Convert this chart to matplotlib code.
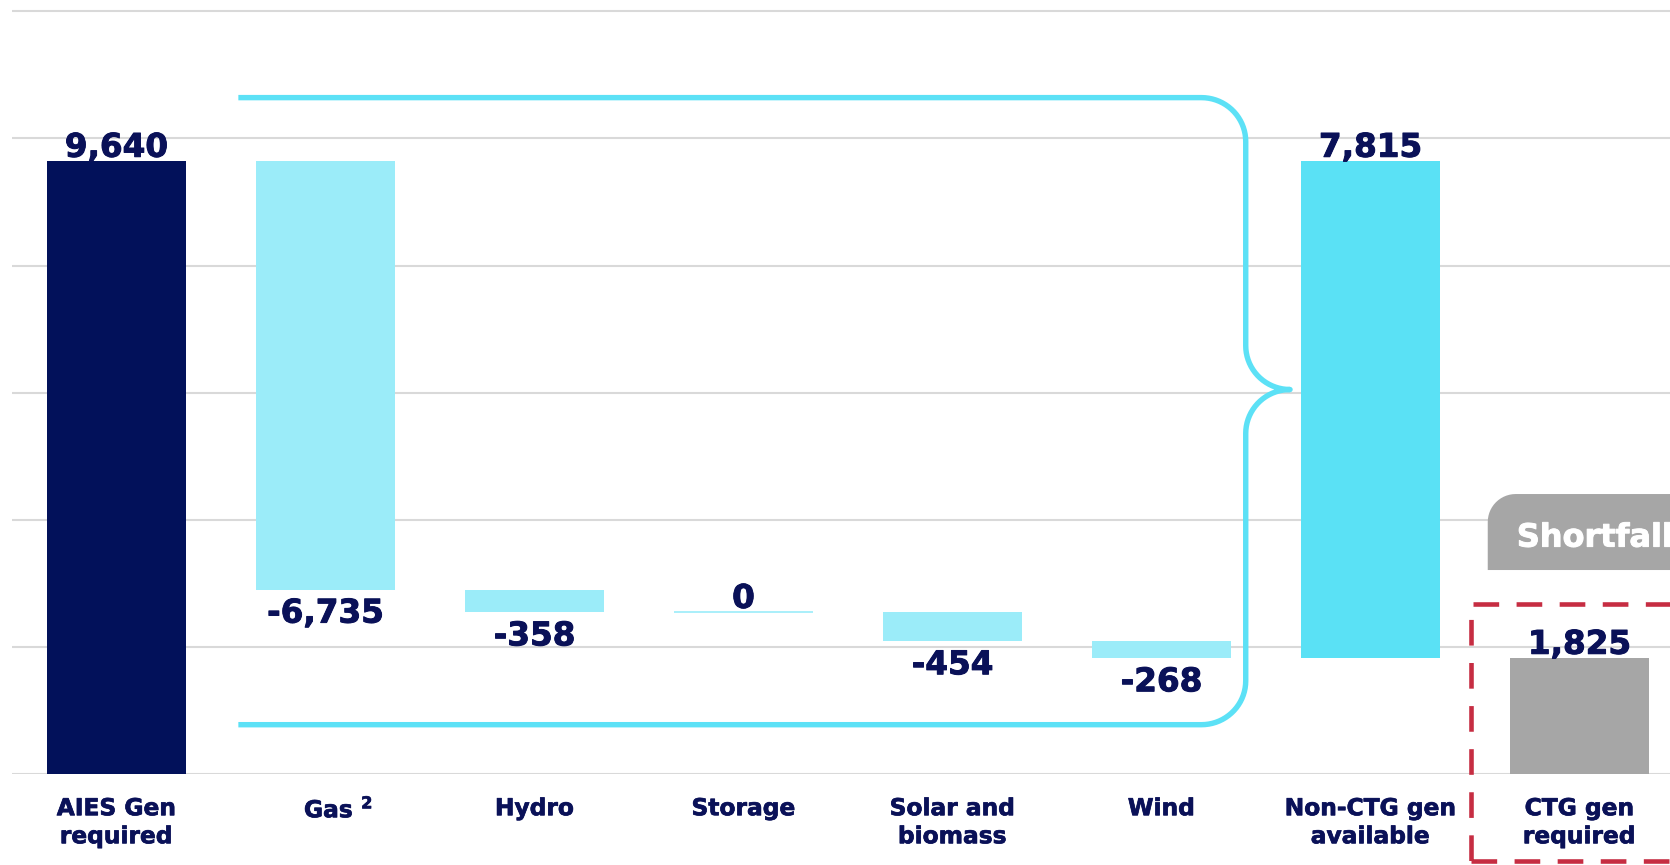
import numpy as np
import matplotlib
matplotlib.use("Agg")
import matplotlib.pyplot as plt
import matplotlib.patheffects as pe
from matplotlib.patches import Rectangle, PathPatch
from matplotlib.path import Path
from matplotlib.transforms import ScaledTranslation

# waterfall: generation required vs. what non-CTG sources can cover
categories = ["AIES Gen\nrequired", r"Gas $^{\mathbf{2}}$", "Hydro", "Storage",
              "Solar and\nbiomass", "Wind", "Non-CTG gen\navailable", "CTG gen\nrequired"]
gen_required = 9640
source_changes = [-6735, -358, 0, -454, -268]
non_ctg_available = 7815
ctg_required = 1825

NAVY = "#02115A"
LIGHT = "#9BECF9"
CYAN = "#5AE1F5"
GREY = "#A6A6A6"
RED = "#C62D42"
TEXT = "#0A1158"

# build bar bottoms / heights
bottoms = [0]
heights = [gen_required]
running = gen_required
for v in source_changes:
    running = running + v
    bottoms.append(running)
    heights.append(-v)
bottoms.append(running)
heights.append(non_ctg_available)
bottoms.append(0)
heights.append(ctg_required)
colors = [NAVY] + [LIGHT] * len(source_changes) + [CYAN, GREY]
labels = [gen_required] + source_changes + [non_ctg_available, ctg_required]

fig = plt.figure(figsize=(16.7, 8.65), dpi=100)
ax = fig.add_axes([12 / 1670, 1 - 774.3 / 865, 1 - 12 / 1670, 774.3 / 865])
x = np.arange(len(categories))

for y in range(0, 12001, 2000):
    ax.axhline(y, color="#D9D9D9", lw=1.5, zorder=0)

ax.bar(x, heights, bottom=bottoms, width=0.665, color=colors, zorder=2,
       edgecolor=[LIGHT if h == 0 else "none" for h in heights], linewidth=1.2)

thick = [pe.withStroke(linewidth=0.7, foreground=TEXT)]
for xi, b, h, v in zip(x, bottoms, heights, labels):
    txt = f"{v:,}"
    if v < 0:
        ax.annotate(txt, (xi, b), xytext=(0, -23.8), textcoords="offset points",
                    ha="center", va="baseline", fontsize=23.5, fontweight="bold",
                    color=TEXT, path_effects=thick)
    else:
        ax.annotate(txt, (xi, b + h), xytext=(0, 3.2), textcoords="offset points",
                    ha="center", va="baseline", fontsize=23.5, fontweight="bold",
                    color=TEXT, path_effects=thick)

# curly bracket around the non-CTG sources
x_left, x_vert, rx = 0.596, 5.403, 0.212
y_top, y_bot, y_tip, ry = 10640, 780, 6050, 690


def arc(cx, cy, a0, a1, n=20):
    t = np.radians(np.linspace(a0, a1, n))
    return list(zip(cx + rx * np.cos(t), cy + ry * np.sin(t)))


pts = [(x_left, y_top), (x_vert - rx, y_top)]
pts += arc(x_vert - rx, y_top - ry, 90, 0)
pts += [(x_vert, y_tip + ry)]
pts += arc(x_vert + rx, y_tip + ry, 180, 270)
pts += arc(x_vert + rx, y_tip - ry, 90, 180)
pts += [(x_vert, y_bot + ry)]
pts += arc(x_vert - rx, y_bot + ry, 0, -90)
pts += [(x_left, y_bot)]
bx, by = zip(*pts)
ax.plot(bx, by, color="#5CE1F6", lw=3.9, solid_joinstyle="round", zorder=3)

# "Shortfall" tab above the CTG bar (rounded top corners)
sx0, sx1, sy0, sy1 = 6.561, 7.9, 3212, 4407
srx, sry = 0.134, 440
t = np.radians(np.linspace(180, 90, 15))
tab = [(sx0, sy0), (sx0, sy1 - sry)]
tab += list(zip(sx0 + srx + srx * np.cos(t), sy1 - sry + sry * np.sin(t)))
tab += [(sx1, sy1), (sx1, sy0), (sx0, sy0)]
ax.add_patch(PathPatch(Path(tab, closed=True), facecolor=GREY, edgecolor="none",
                       zorder=3, clip_on=False))
ax.text(6.70, 3580, "Shortfall", color="white", fontsize=23, fontweight="bold",
        ha="left", va="baseline", zorder=4, clip_on=False,
        path_effects=[pe.withStroke(linewidth=0.7, foreground="white")])

# dashed highlight around the CTG column
ax.add_patch(Rectangle((6.479, -1360), 1.5, 2677 + 1360, fill=False, edgecolor=RED,
                       lw=3.3, linestyle=(0, (5.6, 3.8)), zorder=4, clip_on=False))

ax.set_xlim(-0.5, 7.433)
ax.set_ylim(0, 12175)
ax.set_xticks(x, categories)
ax.tick_params(axis="x", length=0, pad=16.5, labelsize=16.8, labelcolor=TEXT)
for lab in ax.get_xticklabels():
    lab.set_fontweight("bold")
    lab.set_linespacing(1.28)
    lab.set_path_effects([pe.withStroke(linewidth=0.5, foreground=TEXT)])
ax.set_yticks([])
for s in ax.spines.values():
    s.set_visible(False)

# keep "Gas" itself centred under its bar, superscript hanging to the right
gas_tick = ax.xaxis.get_major_ticks()[1]
gas_tick.label1.set_transform(gas_tick.label1.get_transform()
                              + ScaledTranslation(0.13, 0, fig.dpi_scale_trans))

fig.savefig("out.png", dpi=100)
